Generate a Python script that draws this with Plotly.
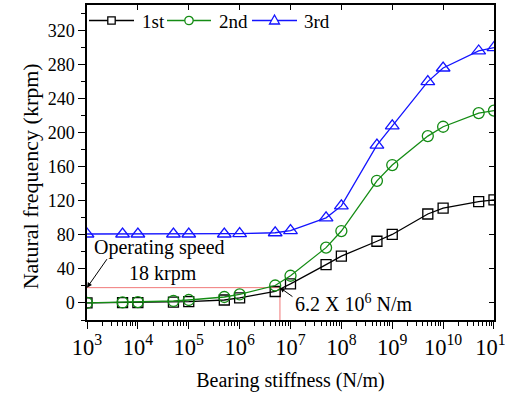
import math
import plotly.graph_objects as go

# Data
stiffness = [1e3, 5e3, 1e4, 5e4, 1e5, 5e5, 1e6, 5e6, 1e7, 5e7, 1e8, 5e8, 1e9, 5e9, 1e10, 5e10, 1e11]
first = [0, 0.3, 0.5, 1, 1.5, 3.5, 6, 13.5, 22.5, 45, 55, 72.5, 80.5, 104.5, 111.5, 119, 121]
second = [0, 0.6, 1, 2.3, 3.5, 7, 10, 20.5, 32, 65, 84.5, 143.5, 162, 196, 207, 223, 226]
third = [81, 81, 81, 81, 81, 81, 81.5, 82.5, 85, 100, 114, 185.5, 208, 260, 276, 296, 300]
series_names = ["1st", "2nd", "3rd"]

operating_speed = 18          # krpm
critical_stiffness = 6.2e6    # N/m
y_bottom = -20

FONT = "Liberation Serif, Times New Roman, serif"
W, H = 505, 394
ML, MR, MT, MB = 87, 11, 5, 74
PW, PH = W - ML - MR, H - MT - MB


def px2x(px):
    return (px - ML) / PW


def px2y(py):
    return (H - MB - py) / PH


fig = go.Figure()

# operating speed guide lines
fig.add_trace(go.Scatter(
    x=[stiffness[0], critical_stiffness, critical_stiffness],
    y=[operating_speed, operating_speed, y_bottom],
    mode="lines", line=dict(color="rgb(240,120,120)", width=1),
    showlegend=False, hoverinfo="skip"))

styles = [
    dict(color="black", symbol="square-open", size=10),
    dict(color="rgb(20,140,20)", symbol="circle-open", size=11),
    dict(color="rgb(20,20,255)", symbol="triangle-up-open", size=12),
]
for name, vals, st in zip(series_names, [first, second, third], styles):
    fig.add_trace(go.Scatter(
        x=stiffness, y=vals, name=name, mode="lines+markers",
        line=dict(color=st["color"], width=1.3),
        marker=dict(symbol=st["symbol"], size=st["size"], color=st["color"],
                    line=dict(width=1.3, color=st["color"])),
        showlegend=False,
    ))

# invisible trace for mirrored (inside) ticks
fig.add_trace(go.Scatter(x=[stiffness[0]], y=[0], xaxis="x2", yaxis="y2",
                         mode="markers", marker=dict(opacity=0),
                         showlegend=False, hoverinfo="skip"))

axis_font = dict(family=FONT, size=18, color="black")
x_range = [2.9999, 11.0001]
y_range = [-20, 350]

fig.update_layout(
    width=W, height=H,
    margin=dict(l=ML, r=MR, t=MT, b=MB, autoexpand=False),
    paper_bgcolor="white", plot_bgcolor="white",
    font=dict(family=FONT, size=18, color="black"),
    showlegend=False,
    xaxis=dict(type="log", range=x_range, dtick=1, exponentformat="power",
               showgrid=False, zeroline=False, automargin=False,
               ticklabeloverflow="allow",
               showline=True, linecolor="black", linewidth=1.5, mirror=True,
               ticks="outside", ticklen=7, tickwidth=1.3, tickcolor="black",
               minor=dict(ticks="outside", ticklen=4, tickcolor="black", dtick="D1", showgrid=False),
               tickfont=axis_font,
               title=dict(text="Bearing stiffness (N/m)", font=dict(family=FONT, size=20), standoff=14)),
    yaxis=dict(range=y_range, tick0=0, dtick=40,
               showgrid=False, zeroline=False, automargin=False,
               showline=True, linecolor="black", linewidth=1.5, mirror=True,
               ticks="outside", ticklen=7, tickwidth=1.3, tickcolor="black",
               minor=dict(ticks="outside", ticklen=4, tickcolor="black", dtick=20, showgrid=False),
               tickfont=axis_font),
    xaxis2=dict(type="log", overlaying="x", matches="x", side="top", anchor="y",
                range=x_range, dtick=1, showticklabels=False, showgrid=False, zeroline=False,
                automargin=False,
                ticks="inside", ticklen=5, tickwidth=1.3, tickcolor="black"),
    yaxis2=dict(overlaying="y", matches="y", side="right", anchor="x",
                range=y_range, tick0=0, dtick=40, showticklabels=False, showgrid=False, zeroline=False,
                automargin=False,
                ticks="inside", ticklen=5, tickwidth=1.3, tickcolor="black"),
)

annotations = [
    dict(x=4.43, y=65, text="Operating speed", showarrow=False,
         font=dict(family=FONT, size=20)),
    dict(x=4.50, y=35, text=f"{operating_speed} krpm", showarrow=False,
         font=dict(family=FONT, size=20)),
    dict(x=3, y=operating_speed, text="", showarrow=True, ax=21, ay=-30,
         arrowhead=2, arrowsize=1, arrowwidth=1, arrowcolor="black"),
    dict(x=8.24, y=0, text="6.2 X 10<sup>6</sup> N/m", showarrow=False,
         font=dict(family=FONT, size=20)),
    dict(x=math.log10(critical_stiffness), y=operating_speed, text="", showarrow=True,
         ax=14, ay=10, arrowhead=2, arrowsize=1, arrowwidth=1, arrowcolor="black"),
]
for a in annotations:
    a.update(xref="x", yref="y")
# y-axis title (placed slightly below centre, as in the reference)
annotations.append(dict(xref="paper", yref="paper", x=-0.175, y=0.457,
                        text="Natural frequency (krpm)", textangle=-90, showarrow=False,
                        font=dict(family=FONT, size=22)))

# legend drawn inside the top-left corner (Origin style, long sample lines)
legend_y = 20.5
legend_items = [(89, 134, 140), (167, 211, 217), (252, 297, 302)]  # line start, line end, text start (px)
shapes = []
for (x0, x1, xt), name, st in zip(legend_items, series_names, styles):
    c = st["color"]
    shapes.append(dict(type="line", xref="paper", yref="paper",
                       x0=px2x(x0), x1=px2x(x1), y0=px2y(legend_y), y1=px2y(legend_y),
                       line=dict(color=c, width=1.3)))
    xm = (x0 + x1) / 2
    if st["symbol"].startswith("square"):
        r = 3.7
        shapes.append(dict(type="rect", xref="paper", yref="paper",
                           x0=px2x(xm - r), x1=px2x(xm + r), y0=px2y(legend_y + r), y1=px2y(legend_y - r),
                           line=dict(color=c, width=1.3), fillcolor="white"))
    elif st["symbol"].startswith("circle"):
        r = 4.2
        shapes.append(dict(type="circle", xref="paper", yref="paper",
                           x0=px2x(xm - r), x1=px2x(xm + r), y0=px2y(legend_y + r), y1=px2y(legend_y - r),
                           line=dict(color=c, width=1.3), fillcolor="white"))
    else:
        r = 5
        path = (f"M{px2x(xm - r)},{px2y(legend_y + 3.5)} L{px2x(xm + r)},{px2y(legend_y + 3.5)} "
                f"L{px2x(xm)},{px2y(legend_y - 5.5)} Z")
        shapes.append(dict(type="path", xref="paper", yref="paper", path=path,
                           line=dict(color=c, width=1.3), fillcolor="white"))
    annotations.append(dict(xref="paper", yref="paper", x=px2x(xt), y=px2y(legend_y + 1),
                            xanchor="left", yanchor="middle", text=name, showarrow=False,
                            font=dict(family=FONT, size=19)))

fig.update_layout(annotations=annotations, shapes=shapes)

fig.write_html("out.html", config={"displayModeBar": False},
               post_script="document.body.style.margin='0px';document.body.style.overflow='hidden';")
